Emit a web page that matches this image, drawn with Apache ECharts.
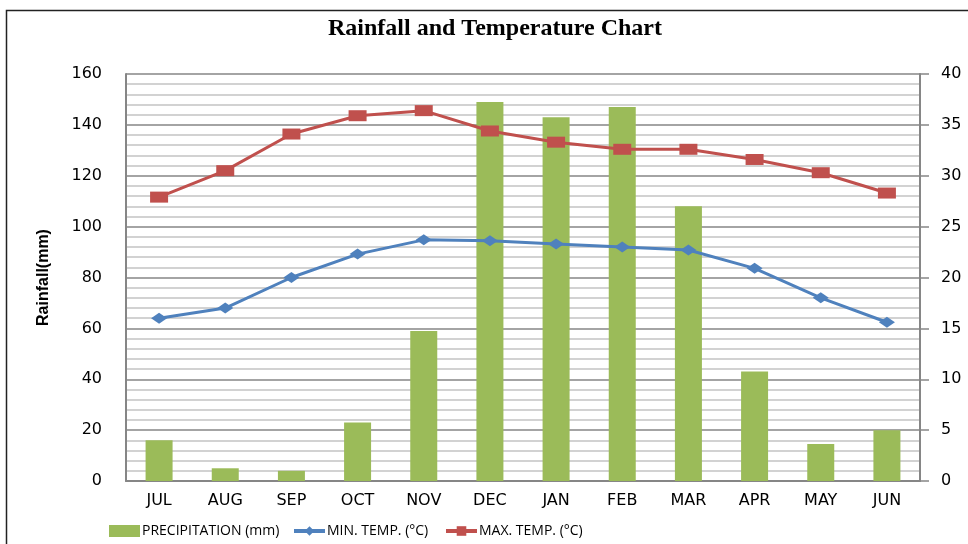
<!DOCTYPE html>
<html>
<head>
<meta charset="utf-8">
<script src="https://cdn.jsdelivr.net/npm/echarts@6/dist/echarts.min.js"></script>
<style>
  html, body { margin: 0; padding: 0; background: #fff; }
  #chart { width: 968px; height: 544px; }
</style>
</head>
<body>
<div id="chart"></div>
<script>
// data
const months = ['JUL', 'AUG', 'SEP', 'OCT', 'NOV', 'DEC', 'JAN', 'FEB', 'MAR', 'APR', 'MAY', 'JUN'];
const precipitation = [16, 5, 4, 23, 59, 149, 143, 147, 108, 43, 14.5, 20];
const minTemp = [16.0, 17.0, 20.0, 22.3, 23.7, 23.6, 23.3, 23.0, 22.7, 20.9, 18.0, 15.6];
const maxTemp = [27.9, 30.5, 34.1, 35.9, 36.4, 34.4, 33.3, 32.6, 32.6, 31.6, 30.3, 28.3];

const chart = echarts.init(document.getElementById('chart'));

const tickFont = { fontFamily: 'DejaVu Sans', fontSize: 16, color: '#000' };

// one legend block per series so each sits where the reference has it
const legendAt = (left, item) => ({
  left: left, top: 519,
  itemWidth: 31, itemHeight: 12,
  textStyle: { fontFamily: 'Open Sans', fontSize: 14, color: '#000', padding: [0, 0, 0, -3] },
  lineStyle: { width: 4 },
  data: [item]
});

chart.setOption({
  animation: false,
  title: {
    text: 'Rainfall and Temperature Chart',
    left: 490, top: 12, textAlign: 'center',
    textStyle: { fontFamily: 'Liberation Serif', fontWeight: 'bold', fontSize: 24, color: '#000' }
  },
  graphic: [{
    type: 'rect', left: 4, top: 8, silent: true,
    shape: { width: 1000, height: 600 },
    style: { fill: 'none', stroke: '#222', lineWidth: 1.5 }
  }],
  legend: [
    legendAt(104, { name: 'PRECIPITATION (mm)', icon: 'rect' }),
    legendAt(287, 'MIN. TEMP. (°C)'),
    legendAt(439, 'MAX. TEMP. (°C)')
  ],
  grid: { left: 126, right: 48, top: 74, bottom: 63 },
  xAxis: {
    type: 'category',
    data: months,
    axisLine: { lineStyle: { color: '#868686', width: 2 } },
    axisTick: { show: false },
    axisLabel: Object.assign({ margin: 12 }, tickFont)
  },
  yAxis: [{
    type: 'value', min: 0, max: 160, interval: 20,
    name: 'Rainfall(mm)', nameLocation: 'middle', nameGap: 74, nameRotate: 90,
    nameTextStyle: { fontFamily: 'Liberation Sans', fontWeight: 'bold', fontSize: 16, color: '#000' },
    axisLine: { show: true, lineStyle: { color: '#868686', width: 2 } },
    axisTick: { show: false },
    axisLabel: Object.assign({ margin: 24 }, tickFont),
    splitLine: { lineStyle: { color: '#868686', width: 1.5 } },
    minorTick: { show: false, splitNumber: 5 },
    minorSplitLine: { show: true, lineStyle: { color: '#c4c4c4', width: 1.5 } }
  }, {
    type: 'value', min: 0, max: 40, interval: 5, position: 'right',
    axisLine: { show: true, lineStyle: { color: '#868686', width: 2 } },
    axisTick: { show: true, inside: false, length: 9, lineStyle: { color: '#868686', width: 1.5 } },
    axisLabel: Object.assign({ margin: 21 }, tickFont),
    splitLine: { show: false }
  }],
  series: [{
    name: 'PRECIPITATION (mm)',
    type: 'bar',
    data: precipitation,
    barWidth: 27,
    itemStyle: { color: '#9bbb59' }
  }, {
    name: 'MIN. TEMP. (°C)',
    type: 'line',
    yAxisIndex: 1,
    data: minTemp,
    symbol: 'diamond', symbolSize: [16, 11],
    lineStyle: { color: '#4f81bd', width: 3 },
    itemStyle: { color: '#4f81bd' }
  }, {
    name: 'MAX. TEMP. (°C)',
    type: 'line',
    yAxisIndex: 1,
    data: maxTemp,
    symbol: 'rect', symbolSize: [18, 11],
    lineStyle: { color: '#c0504d', width: 3 },
    itemStyle: { color: '#c0504d' }
  }]
});
</script>
</body>
</html>
